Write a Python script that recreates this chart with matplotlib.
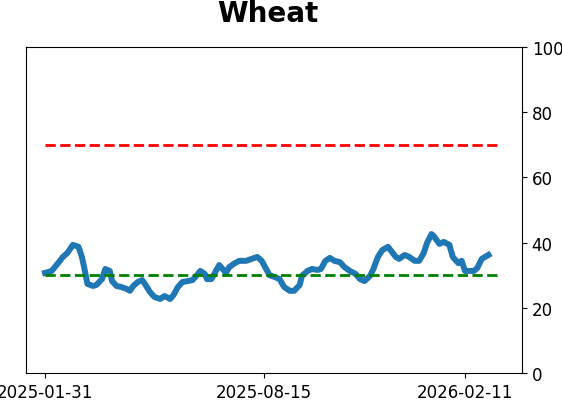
import matplotlib
matplotlib.use("Agg")
import matplotlib.pyplot as plt
import matplotlib.dates as mdates
import pandas as pd

# Wheat indicator
dates = [
    "2025-01-31", "2025-02-06", "2025-02-11", "2025-02-16", "2025-02-20", "2025-02-25",
    "2025-03-02", "2025-03-05", "2025-03-07", "2025-03-10", "2025-03-15", "2025-03-18",
    "2025-03-23", "2025-03-26", "2025-03-30", "2025-04-01", "2025-04-05", "2025-04-09",
    "2025-04-14", "2025-04-17", "2025-04-20", "2025-04-24", "2025-04-28", "2025-05-01",
    "2025-05-05", "2025-05-09", "2025-05-14", "2025-05-18", "2025-05-23", "2025-05-26",
    "2025-05-30", "2025-06-03", "2025-06-08", "2025-06-12", "2025-06-16", "2025-06-19",
    "2025-06-23", "2025-06-25", "2025-06-29", "2025-07-03", "2025-07-06", "2025-07-09",
    "2025-07-12", "2025-07-15", "2025-07-20", "2025-07-24", "2025-07-30", "2025-08-04",
    "2025-08-09", "2025-08-13", "2025-08-16", "2025-08-20", "2025-08-25", "2025-08-29",
    "2025-09-02", "2025-09-07", "2025-09-11", "2025-09-16", "2025-09-18", "2025-09-23",
    "2025-09-27", "2025-10-02", "2025-10-05", "2025-10-09", "2025-10-13", "2025-10-17",
    "2025-10-22", "2025-10-26", "2025-10-31", "2025-11-05", "2025-11-09", "2025-11-13",
    "2025-11-18", "2025-11-21", "2025-11-25", "2025-11-29", "2025-12-04", "2025-12-07",
    "2025-12-11", "2025-12-14", "2025-12-19", "2025-12-23", "2025-12-28", "2026-01-01",
    "2026-01-05", "2026-01-08", "2026-01-12", "2026-01-14", "2026-01-19", "2026-01-23",
    "2026-01-28", "2026-01-31", "2026-02-05", "2026-02-08", "2026-02-11", "2026-02-14",
    "2026-02-19", "2026-02-22", "2026-02-26", "2026-03-04",
]
values = [
    30.7, 31.3, 33.4, 35.6, 36.8, 39.3,
    38.7, 35.6, 32.5, 27.3, 26.7, 27.0,
    28.8, 31.9, 31.3, 28.2, 26.7, 26.4,
    25.8, 25.2, 26.7, 27.9, 28.5, 27.0,
    24.8, 23.3, 22.7, 23.6, 22.7, 23.9,
    26.4, 27.9, 28.2, 28.5, 30.0, 31.3,
    30.4, 28.8, 28.8, 31.3, 33.1, 31.9,
    30.7, 32.5, 33.7, 34.4, 34.4, 35.0,
    35.6, 34.4, 32.5, 30.0, 29.4, 28.8,
    26.4, 25.2, 25.2, 27.0, 29.8, 31.3,
    31.9, 31.6, 31.9, 34.4, 35.3, 34.4,
    34.0, 32.5, 31.3, 30.4, 28.8, 28.2,
    29.8, 31.9, 35.6, 37.7, 38.7, 37.4,
    35.6, 35.0, 36.2, 35.6, 34.4, 34.4,
    36.8, 39.9, 42.6, 42.0, 39.6, 40.2,
    39.3, 35.6, 33.7, 34.4, 31.3, 31.3,
    31.3, 32.2, 35.0, 36.2,
]
upper_level = 70
lower_level = 30
level_span = ["2025-01-31", "2026-03-13"]
tick_dates = ["2025-01-31", "2025-08-15", "2026-02-11"]
x_range = ["2025-01-14", "2026-04-03"]

x = pd.to_datetime(dates)
span = pd.to_datetime(level_span)

fig = plt.figure(figsize=(5.62, 4.02), dpi=100)
ax = fig.add_axes([0.0463, 0.0697, 0.8825, 0.811])

ax.plot(x, values, color="#1f77b4", linewidth=4.3)
ax.hlines(upper_level, span[0], span[1], colors="red", linestyles="--", linewidth=2)
ax.hlines(lower_level, span[0], span[1], colors="green", linestyles="--", linewidth=2)

ax.set_ylim(0, 100)
ax.set_xlim(pd.to_datetime(x_range[0]), pd.to_datetime(x_range[1]))
ax.yaxis.tick_right()
ax.set_yticks([0, 20, 40, 60, 80, 100])
ax.set_xticks(pd.to_datetime(tick_dates))
ax.xaxis.set_major_formatter(mdates.DateFormatter("%Y-%m-%d"))
ax.tick_params(labelsize=12)
ax.set_title("Wheat", fontsize=20, fontweight="bold", pad=19, x=0.487)

fig.savefig("out.png", dpi=100)
